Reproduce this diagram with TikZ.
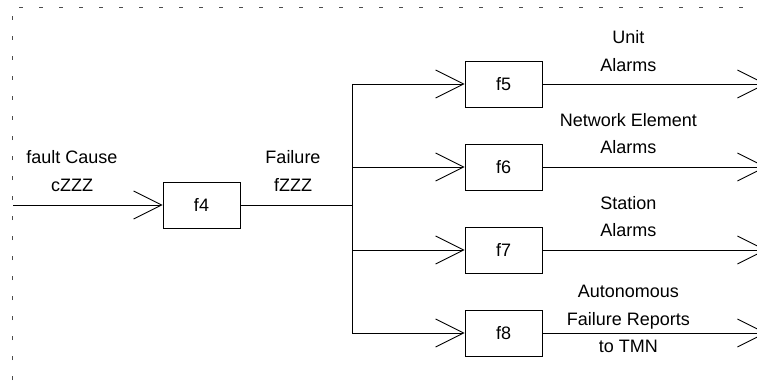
\documentclass[tikz,border=0pt]{standalone}
\usepackage{fontspec}
\setmainfont{Liberation Sans}
\usetikzlibrary{arrows.meta, positioning}

\begin{document}
\begin{tikzpicture}[
        x=1pt, y=-1pt,
        func/.style={draw, line width=0.9pt, minimum width=77pt, minimum height=46pt, inner sep=0pt, font=\fontsize{18}{27.5}\selectfont},
        lbl/.style={align=center, inner sep=0pt, font=\fontsize{18}{27.5}\selectfont},
        flow/.style={line width=0.9pt, -{Straight Barb[length=28pt, width=28pt]}},
        wire/.style={line width=0.9pt},
        frame/.style={line width=0.6pt, draw=black!70, dash pattern=on 4pt off 16pt}
    ]
        \clip (0,0) rectangle (757,385);
        \draw[frame] (12,400) -- (12,7) -- (770,7);

        \node[func] (f4) at (201.5,205) {f4};
        \node[func] (f5) at (503.5,84) {f5};
        \node[func] (f6) at (503.5,167) {f6};
        \node[func] (f7) at (503.5,250) {f7};
        \node[func] (f8) at (503.5,333) {f8};

        \coordinate (in) at (13,205);
        \coordinate[right=112pt of f4.east] (split);
        \coordinate[right=224pt of f5.east] (o5);
        \coordinate[right=224pt of f6.east] (o6);
        \coordinate[right=224pt of f7.east] (o7);
        \coordinate[right=224pt of f8.east] (o8);

        % labels
        \node[lbl] (cause) at (72,171) {fault Cause\\cZZZ};
        \node[lbl] (fail) at (293,171) {Failure\\fZZZ};
        \node[lbl, above=12.5pt of f5.east, xshift=86pt] (l5) {Unit\\Alarms};
        \node[lbl, above=13pt of f6.east, xshift=86pt] (l6) {Network Element\\Alarms};
        \node[lbl, above=13pt of f7.east, xshift=86pt] (l7) {Station\\Alarms};
        \node[lbl, above=-20pt of f8.east, xshift=86pt] (l8) {Autonomous\\Failure Reports\\to TMN};

        % connectors
        \draw[flow] (in) -- (f4);
        \draw[wire] (f4) -- (split);
        \draw[wire] (split |- f5) -- (split |- f8);
        \draw[flow] (split |- f5) -- (f5);
        \draw[flow] (split |- f6) -- (f6);
        \draw[flow] (split |- f7) -- (f7);
        \draw[flow] (split |- f8) -- (f8);
        \draw[flow] (f5) -- (o5);
        \draw[flow] (f6) -- (o6);
        \draw[flow] (f7) -- (o7);
        \draw[flow] (f8) -- (o8);
    \end{tikzpicture}
\end{document}
